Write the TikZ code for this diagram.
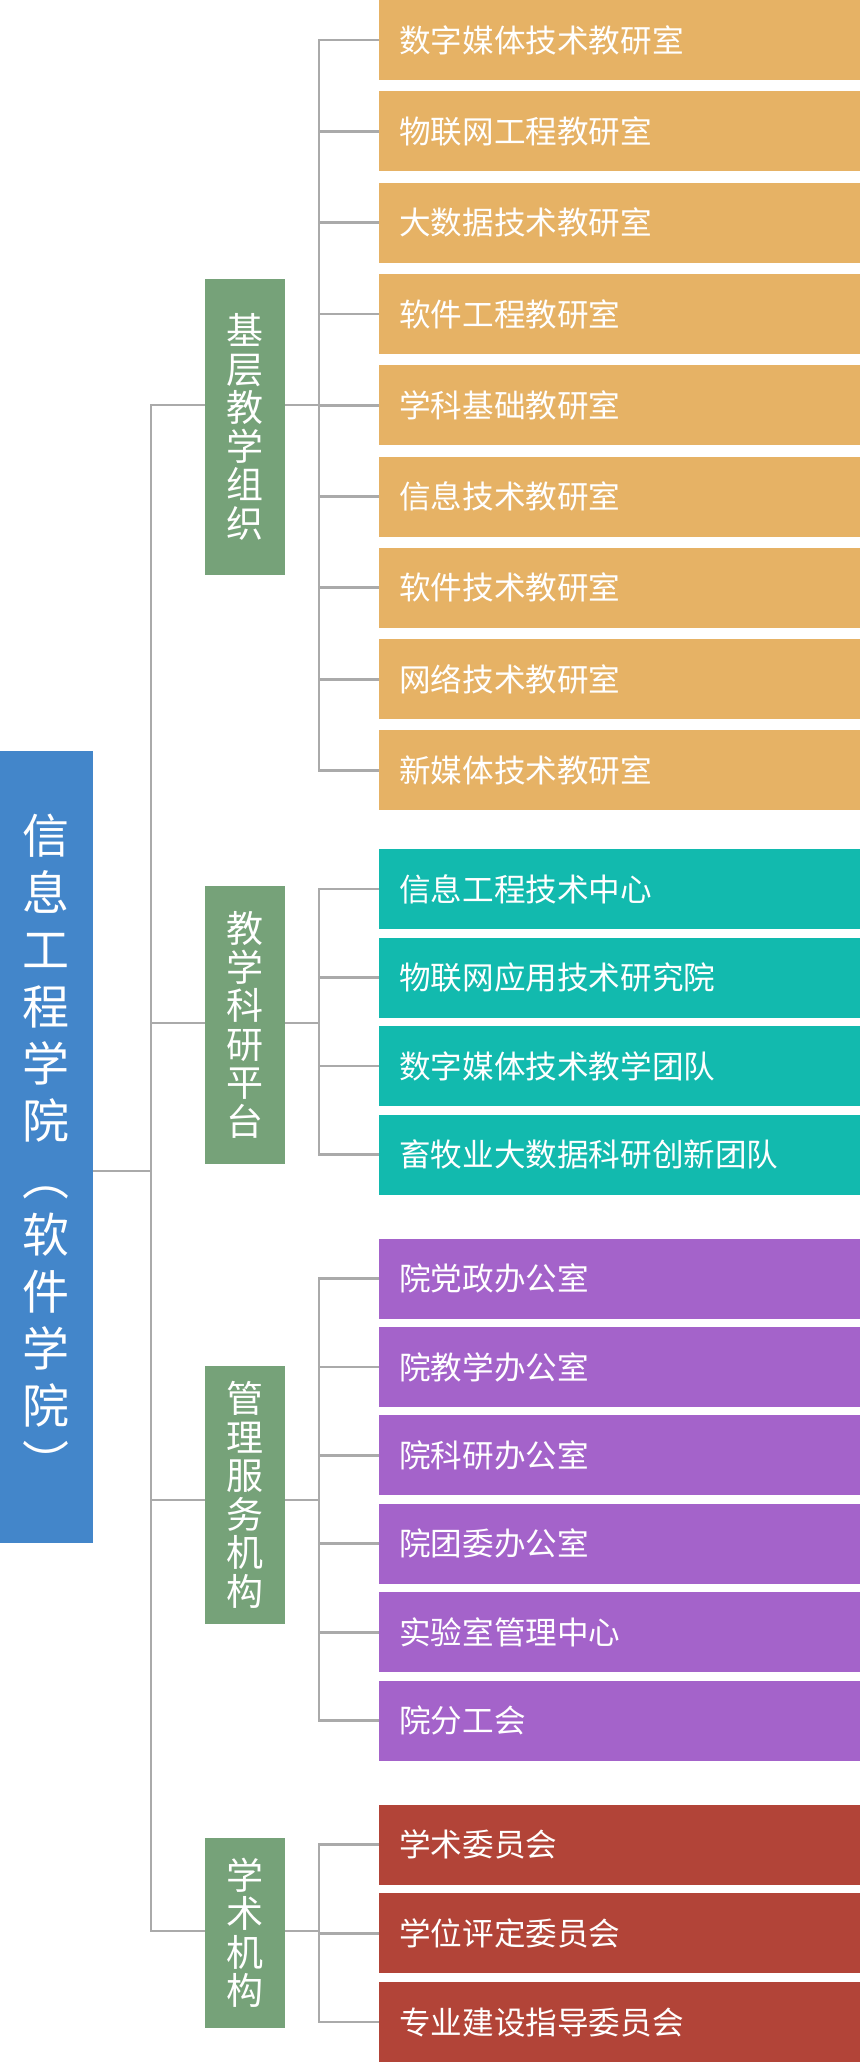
\documentclass[tikz,border=0pt]{standalone}
\usepackage{fontspec}
\newfontfamily\cjk{Noto Sans CJK SC}
\definecolor{rootblue}{HTML}{4386CA}
\definecolor{grpgreen}{HTML}{76A279}
\definecolor{orgorange}{HTML}{E6B265}
\definecolor{orgteal}{HTML}{12BAAE}
\definecolor{orgpurple}{HTML}{A463CA}
\definecolor{orgred}{HTML}{B24438}
\definecolor{linegray}{HTML}{AAAAAA}
\tikzset{
  leaf/.style={anchor=west, text=white, inner xsep=20pt, inner ysep=0pt,
    text width=441pt, minimum height=80pt, align=left,
    font=\cjk\fontsize{31.6}{36}\selectfont},
  grp/.style={fill=grpgreen, text=white, inner sep=0pt, minimum width=80pt,
    align=center, font=\cjk\fontsize{37}{38.5}\selectfont},
  root/.style={fill=rootblue, text=white, inner sep=0pt, minimum width=93pt,
    align=center, font=\cjk\fontsize{47}{57}\selectfont},
  link/.style={draw=linegray, line width=2.8pt},
}
\begin{document}
\begin{tikzpicture}[x=1pt,y=-1pt]
  \useasboundingbox[fill=white] (0,0) rectangle (860,2062);

  % root and groups
  \node[root, minimum height=792pt] (root) at (46.5,1147)
    {信\\息\\工\\程\\学\\院\\︵\\软\\件\\学\\院\\︶};
  \node[grp, minimum height=296pt] (gbase) at (245,427) {基\\层\\教\\学\\组\\织};
  \node[grp, minimum height=278pt] (gplat) at (245,1025) {教\\学\\科\\研\\平\\台};
  \node[grp, minimum height=258pt] (gmgmt) at (245,1495) {管\\理\\服\\务\\机\\构};
  \node[grp, minimum height=190pt] (gacad) at (245,1933) {学\\术\\机\\构};

  % teaching offices
  \node[leaf, fill=orgorange] (base1) at (379,40) {数字媒体技术教研室};
  \node[leaf, fill=orgorange] (base2) at (379,131.3) {物联网工程教研室};
  \node[leaf, fill=orgorange] (base3) at (379,222.6) {大数据技术教研室};
  \node[leaf, fill=orgorange] (base4) at (379,313.9) {软件工程教研室};
  \node[leaf, fill=orgorange] (base5) at (379,405.2) {学科基础教研室};
  \node[leaf, fill=orgorange] (base6) at (379,496.5) {信息技术教研室};
  \node[leaf, fill=orgorange] (base7) at (379,587.8) {软件技术教研室};
  \node[leaf, fill=orgorange] (base8) at (379,679.1) {网络技术教研室};
  \node[leaf, fill=orgorange] (base9) at (379,770.4) {新媒体技术教研室};

  % research platforms
  \node[leaf, fill=orgteal] (plat1) at (379,889) {信息工程技术中心};
  \node[leaf, fill=orgteal] (plat2) at (379,977.5) {物联网应用技术研究院};
  \node[leaf, fill=orgteal] (plat3) at (379,1066) {数字媒体技术教学团队};
  \node[leaf, fill=orgteal] (plat4) at (379,1154.5) {畜牧业大数据科研创新团队};

  % service offices
  \node[leaf, fill=orgpurple] (mgmt1) at (379,1278.5) {院党政办公室};
  \node[leaf, fill=orgpurple] (mgmt2) at (379,1366.9) {院教学办公室};
  \node[leaf, fill=orgpurple] (mgmt3) at (379,1455.3) {院科研办公室};
  \node[leaf, fill=orgpurple] (mgmt4) at (379,1543.7) {院团委办公室};
  \node[leaf, fill=orgpurple] (mgmt5) at (379,1632.1) {实验室管理中心};
  \node[leaf, fill=orgpurple] (mgmt6) at (379,1720.5) {院分工会};

  % academic bodies
  \node[leaf, fill=orgred] (acad1) at (379,1844.5) {学术委员会};
  \node[leaf, fill=orgred] (acad2) at (379,1933.3) {学位评定委员会};
  \node[leaf, fill=orgred] (acad3) at (379,2022) {专业建设指导委员会};

  % junctions
  \coordinate (jbase) at (151,405);
  \coordinate (jplat) at (151,1023);
  \coordinate (jmgmt) at (151,1500);
  \coordinate (jacad) at (151,1931);
  \coordinate (jroot) at (151,1171);
  \coordinate (busbase) at (319,405);
  \coordinate (busplat) at (319,1023);
  \coordinate (busmgmt) at (319,1500);
  \coordinate (busacad) at (319,1931);

  % trunk
  \draw[link] (gbase.west |- jbase) -- (jbase) -- (jacad) -- (gacad.west |- jacad);
  \draw[link] (root.east |- jroot) -- (jroot);
  \draw[link] (jplat) -- (gplat.west |- jplat);
  \draw[link] (jmgmt) -- (gmgmt.west |- jmgmt);

  % group to bus
  \draw[link] (gbase.east |- busbase) -- (busbase);
  \draw[link] (gplat.east |- busplat) -- (busplat);
  \draw[link] (gmgmt.east |- busmgmt) -- (busmgmt);
  \draw[link] (gacad.east |- busacad) -- (busacad);

  % buses
  \draw[link] (base1.west) -- (busbase |- base1.west) -- (busbase |- base9.west) -- (base9.west);
  \draw[link] (busbase |- base2.west) -- (base2.west);
  \draw[link] (busbase |- base3.west) -- (base3.west);
  \draw[link] (busbase |- base4.west) -- (base4.west);
  \draw[link] (busbase |- base5.west) -- (base5.west);
  \draw[link] (busbase |- base6.west) -- (base6.west);
  \draw[link] (busbase |- base7.west) -- (base7.west);
  \draw[link] (busbase |- base8.west) -- (base8.west);

  \draw[link] (plat1.west) -- (busplat |- plat1.west) -- (busplat |- plat4.west) -- (plat4.west);
  \draw[link] (busplat |- plat2.west) -- (plat2.west);
  \draw[link] (busplat |- plat3.west) -- (plat3.west);

  \draw[link] (mgmt1.west) -- (busmgmt |- mgmt1.west) -- (busmgmt |- mgmt6.west) -- (mgmt6.west);
  \draw[link] (busmgmt |- mgmt2.west) -- (mgmt2.west);
  \draw[link] (busmgmt |- mgmt3.west) -- (mgmt3.west);
  \draw[link] (busmgmt |- mgmt4.west) -- (mgmt4.west);
  \draw[link] (busmgmt |- mgmt5.west) -- (mgmt5.west);

  \draw[link] (acad1.west) -- (busacad |- acad1.west) -- (busacad |- acad3.west) -- (acad3.west);
  \draw[link] (busacad |- acad2.west) -- (acad2.west);
\end{tikzpicture}
\end{document}
